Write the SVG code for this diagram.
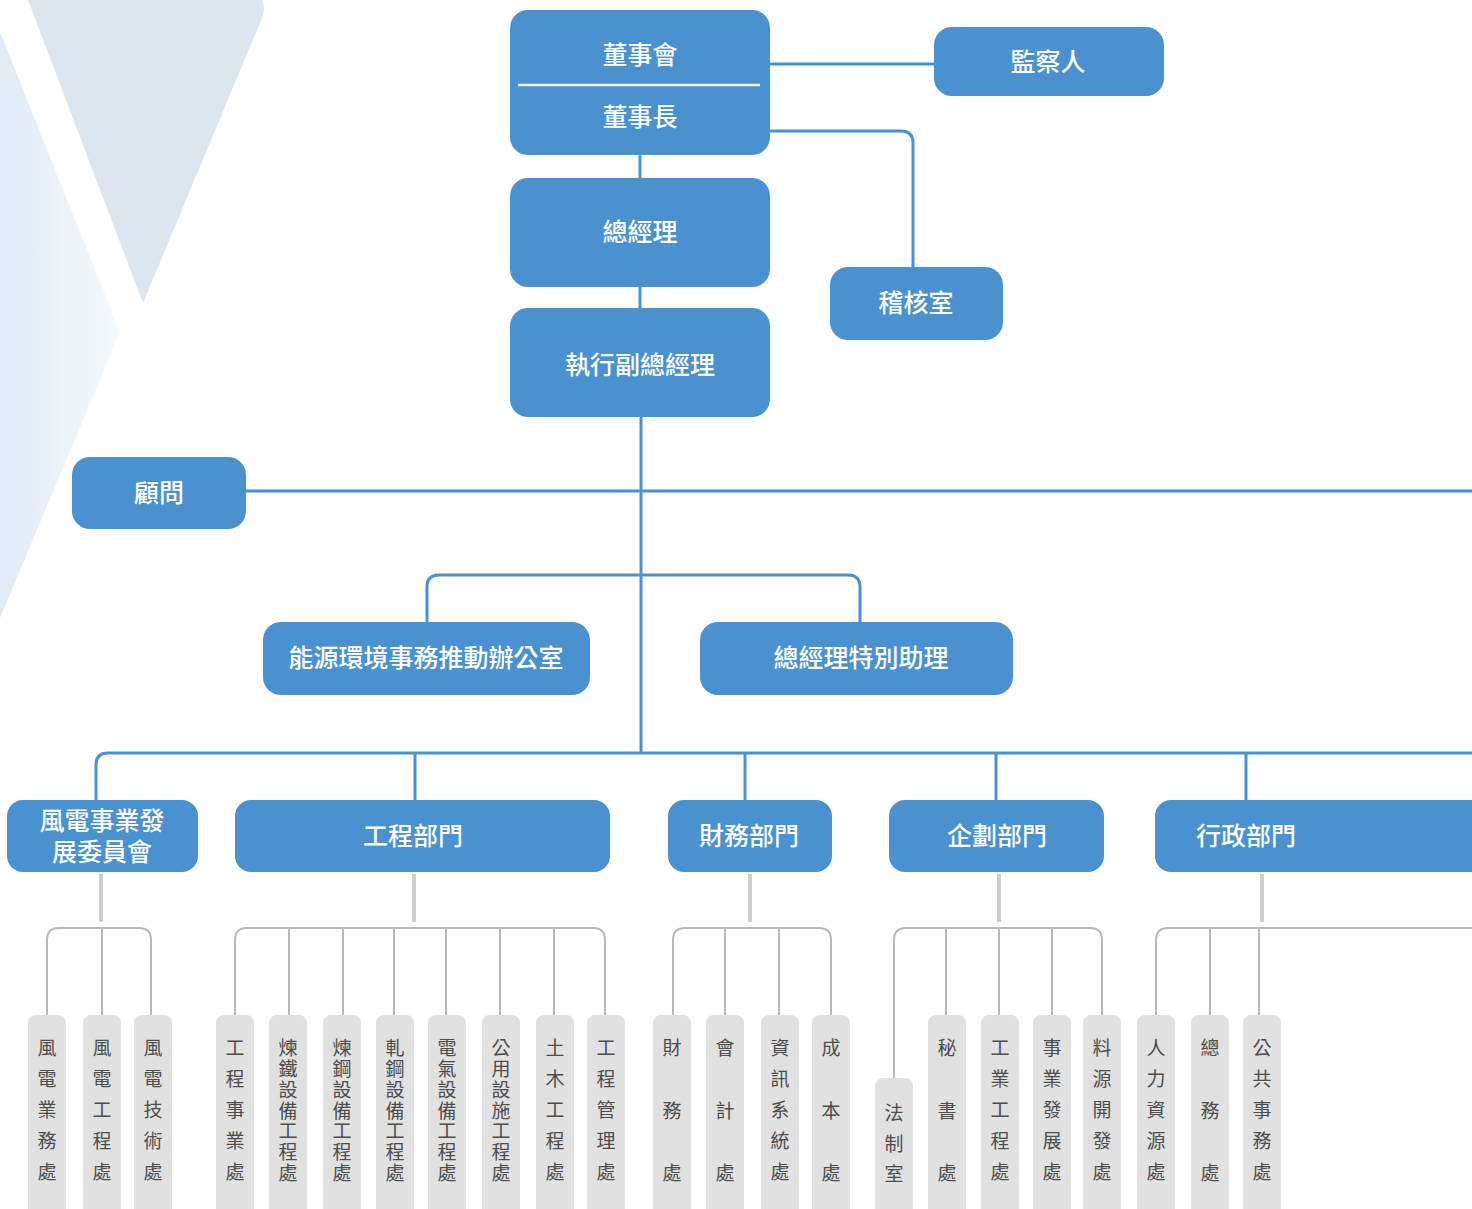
<svg xmlns="http://www.w3.org/2000/svg" width="1472" height="1209" viewBox="0 0 1472 1209">
<defs>
<linearGradient id="bgL" x1="0" y1="0" x2="1" y2="0">
<stop offset="0" stop-color="#dfeaf4"/>
<stop offset="1" stop-color="#f7fafd"/>
</linearGradient>
<style>
.bx{fill:#4a91d0}
.bt{fill:#ffffff;font-family:"Liberation Sans","Noto Sans CJK TC","Noto Sans CJK SC",sans-serif;font-size:25px;font-weight:500;text-anchor:middle;dominant-baseline:central}
.sb{fill:#e1e1e1}
.st{fill:#4d4d4d;font-family:"Liberation Sans","Noto Sans CJK TC","Noto Sans CJK SC",sans-serif;font-size:19px;writing-mode:vertical-rl;text-anchor:start;transform:translate(-2px,0px)}
.s3{letter-spacing:43.5px}
.s5{letter-spacing:12px}
.s7{letter-spacing:1.8px}
.bl{fill:none;stroke:#4a91d0;stroke-width:3}
.gl{fill:none;stroke:#b8b8b8;stroke-width:2}
.gs{fill:none;stroke:#cccccc;stroke-width:4}
</style>
</defs>
<rect width="1472" height="1209" fill="#ffffff"/>
<g id="background">
<polygon points="0,32 120,332 0,618" fill="url(#bgL)"/>
<path d="M28,0 L262,0 Q266,8 262,18 L143,303 Z" fill="#dce6ef"/>
</g>
<g id="connectors">
<path class="bl" d="M770,64 H934"/>
<path class="bl" d="M770,131 H901 Q913,131 913,143 V267"/>
<path class="bl" d="M640,155 V178 M640,287 V308"/>
<path class="bl" d="M641,417 V752"/>
<path class="bl" d="M246,491 H1472"/>
<path class="bl" d="M427,622 V587 Q427,575 439,575 H848 Q860,575 860,587 V622"/>
<path class="bl" d="M96,800 V765 Q96,753 108,753 H1472"/>
<path class="bl" d="M415,753 V800 M745,753 V800 M996,753 V800 M1246,753 V800"/>
<path class="gs" d="M101,874 V922 M414,874 V922 M750,874 V922 M999,874 V922 M1262,874 V922"/>
<path class="gl" d="M47,1015 V940 Q47,928 59,928 H139 Q151,928 151,940 V1015 M102,928 V1015"/>
<path class="gl" d="M235,1015 V940 Q235,928 247,928 H593 Q605,928 605,940 V1015 M289,928 V1015 M343,928 V1015 M394,928 V1015 M446,928 V1015 M500,928 V1015 M554,928 V1015"/>
<path class="gl" d="M673,1015 V940 Q673,928 685,928 H819 Q831,928 831,940 V1015 M725,928 V1015 M779,928 V1015"/>
<path class="gl" d="M894,1078 V940 Q894,928 906,928 H1090 Q1102,928 1102,940 V1015 M946,928 V1015 M999,928 V1015 M1052,928 V1015"/>
<path class="gl" d="M1156,1015 V940 Q1156,928 1168,928 H1472 M1210,928 V1015 M1259,928 V1015"/>
</g>
<g id="n-board">
<rect class="bx" x="510" y="10" width="260" height="145" rx="18"/>
<line x1="518" y1="85" x2="760" y2="85" stroke="#ffffff" stroke-width="2.5" opacity="0.9"/>
<text class="bt" x="640" y="55">董事會</text>
<text class="bt" x="640" y="117">董事長</text>
</g>
<g id="n-supervisor"><rect class="bx" x="934" y="27" width="230" height="69" rx="18"/><text class="bt" x="1048" y="62">監察人</text></g>
<g id="n-gm"><rect class="bx" x="510" y="178" width="260" height="109" rx="18"/><text class="bt" x="640" y="232">總經理</text></g>
<g id="n-audit"><rect class="bx" x="830" y="267" width="173" height="73" rx="18"/><text class="bt" x="916" y="303">稽核室</text></g>
<g id="n-evp"><rect class="bx" x="510" y="308" width="260" height="109" rx="18"/><text class="bt" x="640" y="365">執行副總經理</text></g>
<g id="n-advisor"><rect class="bx" x="72" y="457" width="174" height="72" rx="18"/><text class="bt" x="159" y="493">顧問</text></g>
<g id="n-energy"><rect class="bx" x="263" y="622" width="327" height="73" rx="18"/><text class="bt" x="426" y="658">能源環境事務推動辦公室</text></g>
<g id="n-assistant"><rect class="bx" x="700" y="622" width="313" height="73" rx="18"/><text class="bt" x="861" y="658">總經理特別助理</text></g>
<g id="n-wind"><rect class="bx" x="7" y="800" width="191" height="72" rx="16"/><text class="bt" x="102" y="821">風電事業發</text><text class="bt" x="102" y="852">展委員會</text></g>
<g id="n-eng"><rect class="bx" x="235" y="800" width="375" height="72" rx="16"/><text class="bt" x="413" y="836">工程部門</text></g>
<g id="n-fin"><rect class="bx" x="668" y="800" width="164" height="72" rx="16"/><text class="bt" x="749" y="836">財務部門</text></g>
<g id="n-plan"><rect class="bx" x="889" y="800" width="215" height="72" rx="16"/><text class="bt" x="997" y="836">企劃部門</text></g>
<g id="n-admin"><rect class="bx" x="1155" y="800" width="340" height="72" rx="16"/><text class="bt" x="1246" y="836">行政部門</text></g>
<g id="s-w1"><rect class="sb" x="28" y="1015" width="38" height="210" rx="8"/><text class="st s5" x="47" y="1038.5">風電業務處</text></g>
<g id="s-w2"><rect class="sb" x="83" y="1015" width="38" height="210" rx="8"/><text class="st s5" x="102" y="1038.5">風電工程處</text></g>
<g id="s-w3"><rect class="sb" x="134" y="1015" width="38" height="210" rx="8"/><text class="st s5" x="153" y="1038.5">風電技術處</text></g>
<g id="s-e1"><rect class="sb" x="216" y="1015" width="38" height="210" rx="8"/><text class="st s5" x="235" y="1038.5">工程事業處</text></g>
<g id="s-e2"><rect class="sb" x="269" y="1015" width="38" height="210" rx="8"/><text class="st s7" x="288" y="1038.5">煉鐵設備工程處</text></g>
<g id="s-e3"><rect class="sb" x="323" y="1015" width="38" height="210" rx="8"/><text class="st s7" x="342" y="1038.5">煉鋼設備工程處</text></g>
<g id="s-e4"><rect class="sb" x="376" y="1015" width="38" height="210" rx="8"/><text class="st s7" x="395" y="1038.5">軋鋼設備工程處</text></g>
<g id="s-e5"><rect class="sb" x="428" y="1015" width="38" height="210" rx="8"/><text class="st s7" x="447" y="1038.5">電氣設備工程處</text></g>
<g id="s-e6"><rect class="sb" x="482" y="1015" width="38" height="210" rx="8"/><text class="st s7" x="501" y="1038.5">公用設施工程處</text></g>
<g id="s-e7"><rect class="sb" x="536" y="1015" width="38" height="210" rx="8"/><text class="st s5" x="555" y="1038.5">土木工程處</text></g>
<g id="s-e8"><rect class="sb" x="587" y="1015" width="38" height="210" rx="8"/><text class="st s5" x="606" y="1038.5">工程管理處</text></g>
<g id="s-f1"><rect class="sb" x="653" y="1015" width="38" height="210" rx="8"/><text class="st" x="672" y="1038.5"><tspan class="s3">財務</tspan>處</text></g>
<g id="s-f2"><rect class="sb" x="706" y="1015" width="38" height="210" rx="8"/><text class="st" x="725" y="1038.5"><tspan class="s3">會計</tspan>處</text></g>
<g id="s-f3"><rect class="sb" x="761" y="1015" width="38" height="210" rx="8"/><text class="st s5" x="780" y="1038.5">資訊系統處</text></g>
<g id="s-f4"><rect class="sb" x="812" y="1015" width="38" height="210" rx="8"/><text class="st" x="831" y="1038.5"><tspan class="s3">成本</tspan>處</text></g>
<g id="s-p1"><rect class="sb" x="875" y="1078" width="38" height="150" rx="8"/><text class="st" x="894" y="1103.5" style="letter-spacing:11.5px">法制室</text></g>
<g id="s-p2"><rect class="sb" x="928" y="1015" width="38" height="210" rx="8"/><text class="st" x="947" y="1038.5"><tspan class="s3">秘書</tspan>處</text></g>
<g id="s-p3"><rect class="sb" x="981" y="1015" width="38" height="210" rx="8"/><text class="st s5" x="1000" y="1038.5">工業工程處</text></g>
<g id="s-p4"><rect class="sb" x="1033" y="1015" width="38" height="210" rx="8"/><text class="st s5" x="1052" y="1038.5">事業發展處</text></g>
<g id="s-p5"><rect class="sb" x="1083" y="1015" width="38" height="210" rx="8"/><text class="st s5" x="1102" y="1038.5">料源開發處</text></g>
<g id="s-a1"><rect class="sb" x="1137" y="1015" width="38" height="210" rx="8"/><text class="st s5" x="1156" y="1038.5">人力資源處</text></g>
<g id="s-a2"><rect class="sb" x="1191" y="1015" width="38" height="210" rx="8"/><text class="st" x="1210" y="1038.5"><tspan class="s3">總務</tspan>處</text></g>
<g id="s-a3"><rect class="sb" x="1243" y="1015" width="38" height="210" rx="8"/><text class="st s5" x="1262" y="1038.5">公共事務處</text></g>
</svg>
